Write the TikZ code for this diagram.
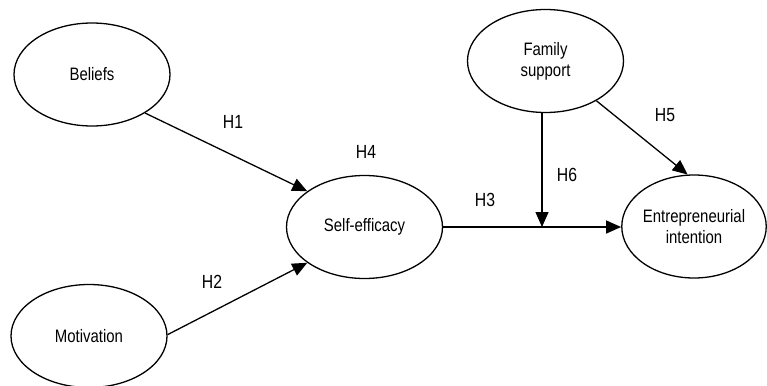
\documentclass[tikz,border=0pt]{standalone}
\usepackage{fontspec}
\setmainfont{Liberation Sans}[FakeStretch=0.83]
\usetikzlibrary{arrows.meta,shapes.geometric}
\begin{document}
\begin{tikzpicture}[x=1pt,y=-1pt,
  construct/.style={draw,ellipse,line width=1.3pt,minimum width=156pt,minimum height=103pt,inner sep=0pt,align=center,font=\fontsize{18}{21}\selectfont},
  link/.style={line width=1.3pt,-{Triangle[length=15pt,width=13pt]}},
  hyp/.style={font=\fontsize{19}{22}\selectfont,inner sep=0pt}]
\useasboundingbox (0,0) rectangle (767,385);
\node[construct] (bel) at (92,74.5) {Beliefs};
\node[construct] (mot) at (89,336) {Motivation};
\node[construct] (self) at (364.5,227) {Self-efficacy};
\node[construct] (fam) at (545.5,61) {Family\\support};
\node[construct,minimum width=142pt] (ent) at (694,226.5) {Entrepreneurial\\intention};
\draw[link] (bel.-36.5) -- (self.148.7);
\draw[link] (mot.1.5) -- (self.212);
\draw[link] (self.east) -- (self.east -| ent.west);
\coordinate (famout) at ([xshift=-3.5pt]fam.south);
\draw[link] (famout) -- (famout |- self.east);
\draw[link] (fam.-38.7) -- (ent.97.7);
\node[hyp] (h1) at (233,122) {H1};
\node[hyp] (h2) at (212,282) {H2};
\node[hyp] (h4) at (366,152) {H4};
\node[hyp] (h3) at (485,200) {H3};
\node[hyp] (h6) at (567,175) {H6};
\node[hyp] (h5) at (665,115) {H5};
\end{tikzpicture}
\end{document}
